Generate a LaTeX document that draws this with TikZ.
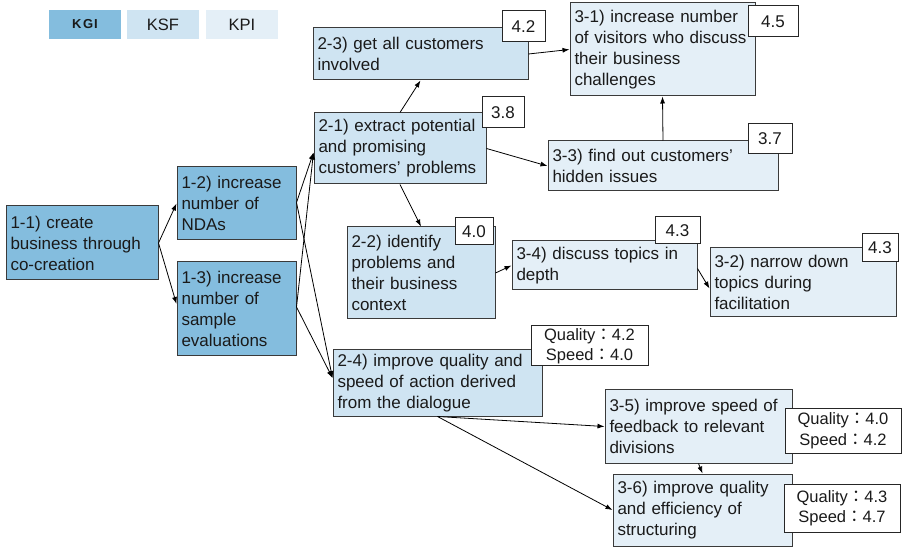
\documentclass[tikz,border=0pt]{standalone}
\usepackage{fontspec}
\setmainfont{Liberation Sans}
\newfontfamily\cjk{Noto Sans CJK JP}
\usetikzlibrary{arrows.meta,calc}

\definecolor{kgi}{HTML}{84BDDE}
\definecolor{ksf}{HTML}{CFE4F2}
\definecolor{kpi}{HTML}{E4EFF7}
\definecolor{bordc}{HTML}{3A3A3A}
\definecolor{txt}{HTML}{1A1A1A}

\newcommand{\qs}[2]{Quality{\cjk ：}#1\\Speed{\cjk ：}#2}

\begin{document}
\begin{tikzpicture}[x=1pt,y=-1pt,
  box/.style={draw=bordc, line width=1pt, inner xsep=4.5pt, inner ysep=0pt,
    align=left, text=txt, font=\fontsize{17}{21}\selectfont},
  score/.style={draw=black!85, fill=white, line width=1pt, inner sep=0pt,
    align=center, text=txt, font=\fontsize{17}{20}\selectfont},
  qsbox/.style={score, font=\fontsize{16.5}{20.5}\selectfont},
  legend/.style={inner sep=0pt, minimum width=72, minimum height=29, text=txt},
  link/.style={draw=black, line width=0.8pt, -{Latex[length=7pt,width=5pt]}}]

\useasboundingbox (0,0) rectangle (906,548);

% legend
\node[legend, fill=kgi, font={\bfseries\fontsize{13}{15}\selectfont}] (lkgi) at (85,24.5) {K\hspace{1.5pt}G\hspace{1pt}I};
\node[legend, fill=ksf, font=\fontsize{16.5}{19}\selectfont] (lksf) at (163,24.5) {KSF};
\node[legend, fill=kpi, font=\fontsize{16.5}{19}\selectfont] (lkpi) at (242,24.5) {KPI};

% KGI level
\node[box, fill=kgi, text width=143, minimum height=74] (n11) at (82,243)
  {1-1) create\\business through\\co-creation};
\node[box, fill=kgi, text width=110, minimum height=73] (n12) at (236.5,203.5)
  {1-2) increase\\number of\\NDAs};
\node[box, fill=kgi, text width=110, minimum height=94] (n13) at (236.5,309)
  {1-3) increase\\number of\\sample\\evaluations};

% KSF level
\node[box, fill=ksf, text width=206, minimum height=52] (n23) at (420.5,54)
  {2-3) get all customers\\involved};
\node[box, fill=ksf, text width=163, minimum height=71] (n21) at (400,148.5)
  {2-1) extract potential\\and promising\\customers’ problems};
\node[box, fill=ksf, text width=139, minimum height=92] (n22) at (421,273)
  {2-2) identify\\problems and\\their business\\context};
\node[box, fill=ksf, text width=200, minimum height=66] (n24) at (437.5,383)
  {2-4) improve quality and\\speed of action derived\\from the dialogue};

% KPI level
\node[box, fill=kpi, text width=176, minimum height=93] (n31) at (662.5,49.5)
  {3-1) increase number\\of visitors who discuss\\their business\\challenges};
\node[box, fill=kpi, text width=221, minimum height=50] (n33) at (663,166)
  {3-3) find out customers’\\hidden issues};
\node[box, fill=kpi, text width=176, minimum height=49] (n34) at (604.5,265.5)
  {3-4) discuss topics in\\depth};
\node[box, fill=kpi, text width=177, minimum height=69] (n32) at (803,282.5)
  {3-2) narrow down\\topics during\\facilitation};
\node[box, fill=kpi, text width=178, minimum height=73] (n35) at (698.5,426.5)
  {3-5) improve speed of\\feedback to relevant\\divisions};
\node[box, fill=kpi, text width=170, minimum height=72] (n36) at (702.5,510)
  {3-6) improve quality\\and efficiency of\\structuring};

% connectors
\draw[link] (n11.east) -- (n12.west);
\draw[link] (n11.east) -- ($(n13.west)+(0,-5)$);
\draw[link] ($(n12.east)+(0,-1)$) -- ($(n21.west)+(0,4)$);
\draw[link] ($(n12.east)+(0,-1)$) -- ($(n24.west)+(0,-5)$);
\draw[link] ($(n13.east)+(0,-2)$) -- ($(n21.west)+(0,4)$);
\draw[link] ($(n13.east)+(0,-2)$) -- ($(n24.west)+(0,-5)$);
\draw[link] (n21.north) -- (n23.south);
\draw[link] (n23.east) -- (n31.west);
\draw[link] (n21.east) -- (n33.west);
\draw[link] (n21.south) -- (n22.north);
\draw[link] (n33.north) -- (n31.south);
\draw[link] (n22.east) -- (n34.west);
\draw[link] ($(n34.east)+(0,3)$) -- ($(n32.west)+(0,6)$);
\draw[link] (n24.south) -- (n35.west);
\draw[link] (n24.south) -- (n36.west);
\draw[link] (n35.south) -- (n36.north);

% scores
\node[score, minimum width=43, minimum height=31] (s23) at (523.5,26.5) {4.2};
\node[score, minimum width=42, minimum height=31] (s21) at (503,112.5) {3.8};
\node[score, minimum width=50, minimum height=31] (s31) at (773,21.5) {4.5};
\node[score, minimum width=44, minimum height=30] (s33) at (770,139) {3.7};
\node[score, minimum width=38, minimum height=27] (s22) at (474,231.5) {4.0};
\node[score, minimum width=45, minimum height=27] (s34) at (677.5,230.5) {4.3};
\node[score, minimum width=36, minimum height=28] (s32) at (880,248) {4.3};
\node[qsbox, minimum width=117, minimum height=40] (q24) at (589.5,346) {\qs{4.2}{4.0}};
\node[qsbox, minimum width=116, minimum height=45] (q35) at (843,430.5) {\qs{4.0}{4.2}};
\node[qsbox, minimum width=116, minimum height=48] (q36) at (842,508) {\qs{4.3}{4.7}};
\end{tikzpicture}
\end{document}
